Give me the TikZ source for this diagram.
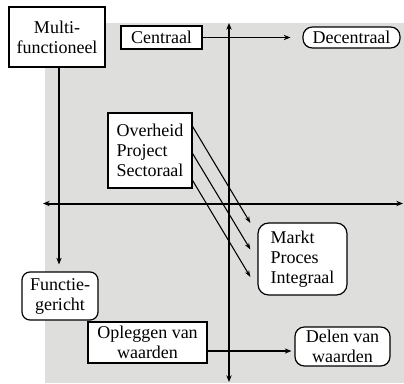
\documentclass[tikz,border=0pt]{standalone}
\usepackage{fontspec}
\setmainfont{Liberation Serif}
\usetikzlibrary{calc,arrows.meta}

\tikzset{every picture/.style={line width=0.75pt}}
\tikzset{
  sqbox/.style={draw,fill=white,inner sep=0pt,align=center,line width=0.9pt},
  rndbox/.style={sqbox,rounded corners=6pt},
  axisline/.style={line width=1.5pt,{Stealth[length=5pt,width=4pt]}-{Stealth[length=5pt,width=4pt]}},
  moveline/.style={line width=1.3pt,-{Stealth[length=5pt,width=4pt]}},
  slantline/.style={line width=0.8pt,-{Stealth[length=5pt,width=3.5pt]}}
}

\begin{document}
\begin{tikzpicture}[x=0.75pt,y=0.75pt,yscale=-1,xscale=1,font=\fontsize{13.5}{15}\selectfont]
\useasboundingbox (0,0) rectangle (404,383);

%Background
\fill [color={rgb, 255:red, 222; green, 222; blue, 220 }] (45,23) rectangle (404,383);

%Axes
\coordinate (top) at (229,23);
\coordinate (bot) at (229,382);
\coordinate (lft) at (43,203.5);
\coordinate (rgt) at (403,203.5);
\draw [axisline] (top) -- (bot);
\draw [axisline] (lft) -- (rgt);

% Boxes
\node [sqbox,minimum width=72,minimum height=45] (multi) at (57,37) {Multi-\\functioneel};
\node [sqbox,minimum width=60.75,minimum height=17.25] (cen) at (161.5,37.5) {Centraal};
\node [rndbox,rounded corners=7pt,minimum width=72.75,minimum height=15.75] (dec) at (351.5,37.5) {Decentraal};
\node [sqbox,align=left,minimum width=63,minimum height=56.25] (ov) at (150,150.5) {Overheid\\Project\\Sectoraal};
\node [rndbox,rounded corners=8pt,align=left,minimum width=66.75,minimum height=54] (mk) at (302.5,259) {Markt\\Proces\\Integraal};
\node [rndbox,minimum width=57,minimum height=36] (fg) at (60,296) {Functie-\\gericht};
\node [sqbox,minimum width=89.25,minimum height=30.75] (opl) at (147.5,342.5) {Opleggen van\\waarden};
\node [rndbox,rounded corners=7pt,minimum width=71.25,minimum height=29.25] (del) at (342.5,346.5) {Delen van\\waarden};

% Arrows
\draw [moveline] (cen.east) -- ($(dec.west)+(-12,0)$);
\draw [moveline] (opl.east |- 0,351) -- ($(del.west)+(-3,4.5)$);
\draw [moveline,line width=1pt] (multi.south -| 59,0) -- ($(fg.north)+(-1,-7)$);
\foreach \a/\b in {-24/-36,3/-9.5,30/18}
  \draw [slantline] ($(ov.east)+(0,\a)$) -- ($(mk.west)+(-7,\b)$);

\end{tikzpicture}
\end{document}
